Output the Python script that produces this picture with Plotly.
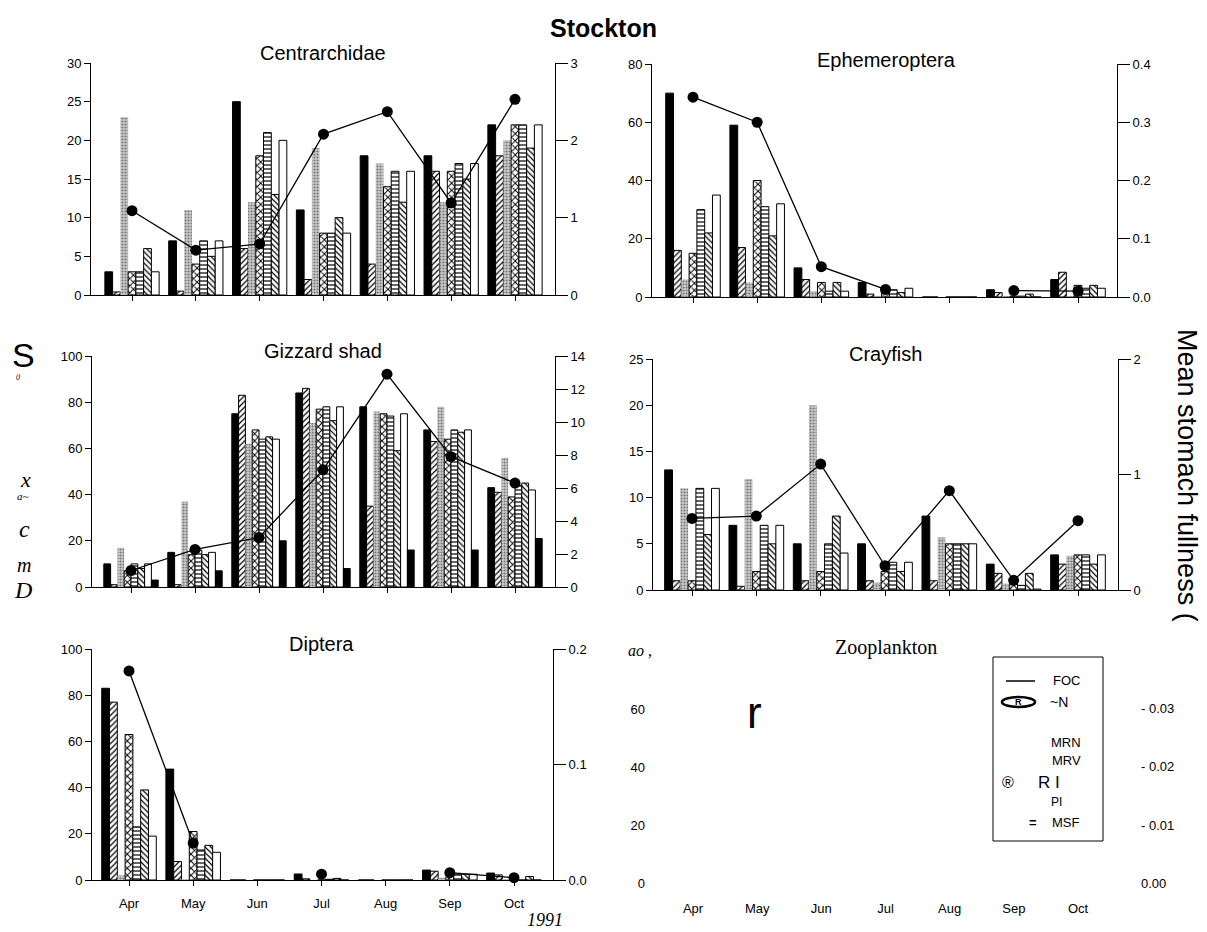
import plotly.graph_objects as go

OFF = 8            # default page body margin in the browser
FW, FH = 1199, 924  # figure size so that the page region matches the 1207x932 reference
months = ["Apr", "May", "Jun", "Jul", "Aug", "Sep", "Oct"]

# ---- Centrarchidae ----
cen_black = [3, 7, 25, 11, 18, 18, 22]
cen_diag = [0.4, 0.5, 6, 2, 4, 16, 18]
cen_gray = [23, 11, 12, 19, 17, 12, 20]
cen_cross = [3, 4, 18, 8, 14, 16, 22]
cen_horiz = [3, 7, 21, 8, 16, 17, 22]
cen_back = [6, 5, 13, 10, 12, 15, 19]
cen_white = [3, 7, 20, 8, 16, 17, 22]
cen_line = [1.09, 0.58, 0.66, 2.08, 2.37, 1.19, 2.53]

# ---- Ephemeroptera ----
eph_black = [70, 59, 10, 5, 0, 2.5, 6]
eph_diag = [16, 17, 6, 1, 0, 1.5, 8.5]
eph_gray = [6, 5, 2, 0.2, 0, 0.3, 0.3]
eph_cross = [15, 40, 5, 2.5, 0, 0.3, 4]
eph_horiz = [30, 31, 2, 2.5, 0, 0.3, 3]
eph_back = [22, 21, 5, 1.5, 0, 1, 4]
eph_white = [35, 32, 2, 3, 0, 0, 3]
eph_line = [0.343, 0.30, 0.052, 0.013, None, 0.011, 0.010]

# ---- Gizzard shad ----
giz_black = [10, 15, 75, 84, 78, 68, 43]
giz_diag = [1, 1, 83, 86, 35, 63, 41]
giz_gray = [17, 37, 62, 71, 76, 78, 56]
giz_cross = [7, 14, 68, 77, 75, 64, 39]
giz_horiz = [10, 16, 64, 78, 74, 68, 44]
giz_back = [8, 14, 65, 72, 59, 67, 45]
giz_white = [10, 15, 64, 78, 75, 68, 42]
giz_black2 = [3, 7, 20, 8, 16, 16, 21]
giz_line = [1.0, 2.28, 3.0, 7.1, 12.9, 7.9, 6.3]

# ---- Crayfish ----
cra_black = [13, 7, 5, 5, 8, 2.8, 3.8]
cra_diag = [1, 0.4, 1, 1, 1, 1.8, 2.8]
cra_gray = [11, 12, 20, 0.8, 5.7, 0.7, 3.7]
cra_cross = [1, 2, 2, 2, 5, 0.7, 3.8]
cra_horiz = [11, 7, 5, 3, 5, 0.5, 3.8]
cra_back = [6, 5, 8, 2, 5, 1.8, 2.8]
cra_white = [11, 7, 4, 3, 5, 0.1, 3.8]
cra_line = [0.62, 0.64, 1.09, 0.21, 0.86, 0.084, 0.60]

# ---- Diptera ----
dip_black = [83, 48, 0, 2.6, 0, 4.3, 3]
dip_diag = [77, 8, 0, 0.5, 0, 3.8, 2.2]
dip_gray = [2, 0.3, 0, 0, 0, 1, 0.4]
dip_cross = [63, 21, 0, 0, 0, 1.5, 0.5]
dip_horiz = [23, 13, 0, 0.3, 0, 2.5, 0]
dip_back = [39, 15, 0, 0.7, 0, 2.5, 1.5]
dip_white = [19, 12, 0, 0, 0, 2.5, 0]
dip_line = [0.181, 0.032, None, 0.005, None, 0.0063, 0.002]

# ---- Zooplankton (empty panel) ----
zoo_left_ticks = [0, 20, 40, 60]
zoo_right_ticks = [0.0, 0.01, 0.02, 0.03]
zoo_right_text = ["0.00", "- 0.01", "- 0.02", "- 0.03"]

FONT = "Liberation Sans, Arial, sans-serif"
SERIF = "Liberation Serif, Times New Roman, serif"


def px(x):
    return (x - OFF) / FW


def py(y):
    return 1 - (y - OFF) / FH


def hatch(shape, size=4, sol=0.35):
    return dict(marker=dict(color="white", line=dict(color="black", width=1),
                            pattern=dict(shape=shape, fgcolor="black", bgcolor="white",
                                         size=size, solidity=sol)))


styles = {
    "black": dict(marker=dict(color="black", line=dict(color="black", width=1))),
    "diag": hatch("/", 4, 0.3),
    "gray": dict(marker=dict(color="#c4c4c4", line=dict(color="#b0b0b0", width=0),
                             pattern=dict(shape=".", fgcolor="#777777", bgcolor="#cdcdcd",
                                          size=3, solidity=0.4))),
    "cross": hatch("x", 5, 0.35),
    "horiz": hatch("-", 4, 0.3),
    "back": hatch("\\", 4, 0.3),
    "white": dict(marker=dict(color="white", line=dict(color="black", width=1))),
    "black2": dict(marker=dict(color="black", line=dict(color="black", width=1))),
}

panels = [
    dict(title="Centrarchidae", tx=323, ty=53, L=91, R=555, T=63, B=295, apr=132, oct=515,
         ymax=30, dtick=5, rmax=3, rdtick=1, rfmt="d", labels=False,
         bars=[("black", cen_black), ("diag", cen_diag), ("gray", cen_gray), ("cross", cen_cross),
               ("horiz", cen_horiz), ("back", cen_back), ("white", cen_white)], line=cen_line),
    dict(title="Ephemeroptera", tx=886, ty=60, L=652, R=1117, T=64, B=297, apr=693, oct=1078,
         ymax=80, dtick=20, rmax=0.4, rdtick=0.1, rfmt=".1f", labels=False,
         bars=[("black", eph_black), ("diag", eph_diag), ("gray", eph_gray), ("cross", eph_cross),
               ("horiz", eph_horiz), ("back", eph_back), ("white", eph_white)], line=eph_line),
    dict(title="Gizzard shad", tx=323, ty=351, L=92, R=555, T=356, B=587, apr=131, oct=515,
         ymax=100, dtick=20, rmax=14, rdtick=2, rfmt="d", labels=False,
         bars=[("black", giz_black), ("diag", giz_diag), ("gray", giz_gray), ("cross", giz_cross),
               ("horiz", giz_horiz), ("back", giz_back), ("white", giz_white), ("black2", giz_black2)],
         line=giz_line),
    dict(title="Crayfish", tx=885, ty=354, L=653, R=1118, T=359, B=590, apr=692, oct=1078,
         ymax=25, dtick=5, rmax=2, rdtick=1, rfmt="d", labels=False,
         bars=[("black", cra_black), ("diag", cra_diag), ("gray", cra_gray), ("cross", cra_cross),
               ("horiz", cra_horiz), ("back", cra_back), ("white", cra_white)], line=cra_line),
    dict(title="Diptera", tx=322, ty=644, L=92, R=553, T=649, B=880, apr=129, oct=514,
         ymax=100, dtick=20, rmax=0.2, rdtick=0.1, rfmt=".1f", labels=True,
         bars=[("black", dip_black), ("diag", dip_diag), ("gray", dip_gray), ("cross", dip_cross),
               ("horiz", dip_horiz), ("back", dip_back), ("white", dip_white)], line=dip_line),
]

fig = go.Figure()
layout = dict(template="none", width=FW, height=FH, margin=dict(l=0, r=0, t=0, b=0, pad=0),
              paper_bgcolor="white", plot_bgcolor="rgba(0,0,0,0)", showlegend=False,
              barmode="group", bargap=0.15, bargroupgap=0, hovermode=False,
              font=dict(family=FONT, size=13, color="black"))
annotations = []
shapes = []

tickfont = dict(family=FONT, size=13, color="black")

for i, p in enumerate(panels, start=1):
    xs = "" if i == 1 else str(i)
    ys = "" if i == 1 else str(i)
    yr = str(i + 6)
    step = (p["oct"] - p["apr"]) / 6
    lo = (p["L"] - p["apr"]) / step
    hi = (p["R"] - p["apr"]) / step
    xvals = list(range(7))
    for key, vals in p["bars"]:
        fig.add_trace(go.Bar(x=xvals, y=vals, xaxis="x" + xs, yaxis="y" + ys,
                             hoverinfo="skip", **styles[key]))
    fig.add_trace(go.Scatter(x=xvals, y=p["line"], xaxis="x" + xs, yaxis="y" + yr,
                             mode="lines+markers", connectgaps=False,
                             line=dict(color="black", width=1.3),
                             marker=dict(color="black", size=11), cliponaxis=False))
    layout["xaxis" + xs] = dict(domain=[px(p["L"]), px(p["R"])], anchor="y" + ys,
                                range=[lo, hi], tickvals=xvals,
                                ticktext=months if p["labels"] else [""] * 7,
                                ticks="outside", ticklen=5, tickcolor="black",
                                showline=True, linecolor="black", linewidth=1,
                                showgrid=False, zeroline=False, tickfont=tickfont,
                                ticklabelstandoff=6, automargin=False)
    layout["yaxis" + ys] = dict(domain=[py(p["B"]), py(p["T"])], anchor="x" + xs,
                                range=[0, p["ymax"]], dtick=p["dtick"], tick0=0,
                                ticks="outside", ticklen=6, tickcolor="black",
                                showline=True, linecolor="black", linewidth=1,
                                showgrid=False, zeroline=False, tickfont=tickfont,
                                automargin=False)
    layout["yaxis" + yr] = dict(domain=[py(p["B"]), py(p["T"])], anchor="x" + xs,
                                overlaying="y" + ys, side="right",
                                range=[0, p["rmax"]], dtick=p["rdtick"], tick0=0,
                                tickformat=p["rfmt"],
                                ticks="outside", ticklen=12, tickcolor="black",
                                showline=True, linecolor="black", linewidth=1,
                                showgrid=False, zeroline=False, tickfont=tickfont,
                                automargin=False)
    annotations.append(dict(text=p["title"], x=px(p["tx"]), y=py(p["ty"]), xref="paper", yref="paper",
                            showarrow=False, xanchor="center", yanchor="middle",
                            font=dict(family=FONT, size=20, color="black")))

L6, R6, T6, B6, apr6, oct6 = 646, 1140, 649, 883, 693, 1078
step6 = (oct6 - apr6) / 6
fig.add_trace(go.Scatter(x=[None], y=[None], xaxis="x6", yaxis="y6", hoverinfo="skip"))
fig.add_trace(go.Scatter(x=[None], y=[None], xaxis="x6", yaxis="y12", hoverinfo="skip"))
layout["xaxis6"] = dict(domain=[px(L6), px(R6)], anchor="y6",
                        range=[(L6 - apr6) / step6, (R6 - apr6) / step6],
                        tickvals=list(range(7)), ticktext=months, ticks="",
                        showline=False, showgrid=False, zeroline=False, tickfont=tickfont,
                        ticklabelstandoff=16, automargin=False)
layout["yaxis6"] = dict(domain=[py(B6), py(T6)], anchor="x6", range=[0, 81],
                        tickvals=zoo_left_ticks, ticks="", showline=False, showgrid=False,
                        zeroline=False, tickfont=tickfont, automargin=False)
layout["yaxis12"] = dict(domain=[py(B6), py(T6)], anchor="x6", overlaying="y6", side="right",
                         range=[0, 0.0403], tickvals=zoo_right_ticks, ticktext=zoo_right_text,
                         ticks="", showline=False, showgrid=False, zeroline=False,
                         tickfont=tickfont, automargin=False)


def ann(text, x, y, size=13, family=FONT, **kw):
    d = dict(text=text, x=px(x), y=py(y), xref="paper", yref="paper", showarrow=False,
             xanchor=kw.pop("xanchor", "center"), yanchor=kw.pop("yanchor", "middle"),
             font=dict(family=family, size=size, color="black"))
    d.update(kw)
    annotations.append(d)


ann("Zooplankton", 886, 647, size=20, family=SERIF)
ann("<i>ao</i> ,", 640, 650, size=16, family=SERIF)
ann("r", 755, 712, size=44)
ann("<b>Stockton</b>", 603, 28, size=25)
ann("<i>1991</i>", 545, 920, size=18, family=SERIF)

# left garbled axis title pieces
ann("S", 23, 355, size=34)
ann("<i>0</i>", 18, 378, size=8, family=SERIF)
ann("<i>x</i>", 25, 479, size=22, family=SERIF)
ann("<i>a~</i>", 23, 496, size=11, family=SERIF)
ann("<i>c</i>", 24, 529, size=24, family=SERIF)
ann("<i>m</i>", 24, 565, size=20, family=SERIF)
ann("<i>D</i>", 23, 590, size=24, family=SERIF)

# right axis title
ann("Mean stomach fullness (", 1187, 475, size=27, textangle=90)

# legend box
shapes.append(dict(type="rect", xref="paper", yref="paper", x0=px(993), x1=px(1103),
                   y0=py(841), y1=py(657), line=dict(color="black", width=1)))
shapes.append(dict(type="line", xref="paper", yref="paper", x0=px(1006), x1=px(1035),
                   y0=py(681), y1=py(681), line=dict(color="black", width=1.5)))
shapes.append(dict(type="circle", xref="paper", yref="paper", x0=px(1002), x1=px(1035),
                   y0=py(707), y1=py(697), line=dict(color="black", width=2.5)))
ann("<b>R</b>", 1018, 702, size=9)
ann("FOC", 1066, 680, size=13)
ann("~N", 1059, 702, size=14)
ann("MRN", 1066, 742, size=13)
ann("MRV", 1066, 760, size=13)
ann("®", 1008, 782, size=16)
ann("R I", 1049, 782, size=17)
ann("PI", 1056, 802, size=12)
ann("<b>=</b>", 1033, 822, size=13)
ann("MSF", 1066, 822, size=13)

layout["annotations"] = annotations
layout["shapes"] = shapes
fig.update_layout(**layout)
fig.write_html("out.html", config={"displayModeBar": False})
